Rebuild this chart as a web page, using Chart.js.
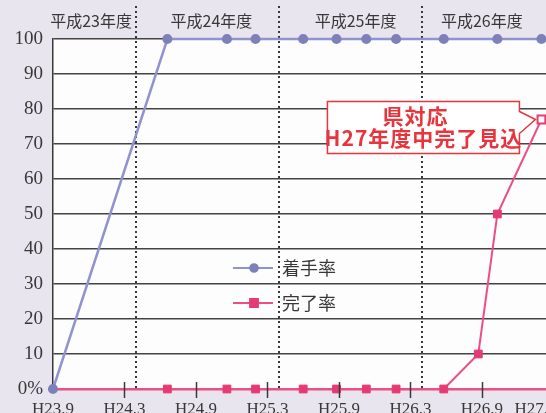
<!DOCTYPE html>
<html lang="ja">
<head>
<meta charset="utf-8">
<title>着手率・完了率</title>
<script src="https://cdn.jsdelivr.net/npm/chart.js@4.4.1/dist/chart.umd.min.js"></script>
<style>
  html, body { margin: 0; padding: 0; overflow: hidden; background: #e9e5ee; }
  canvas { display: block; }
</style>
</head>
<body>
<canvas id="progressChart" width="610" height="420"></canvas>
<script>
// x values are months counted from H23.9
const xTickPos = [0, 6, 12, 18, 24, 30, 36, 40.5];
const xTickLabels = ['H23.9', 'H24.3', 'H24.9', 'H25.3', 'H25.9', 'H26.3', 'H26.9', 'H27.3'];
const fiscalYears = ['平成23年度', '平成24年度', '平成25年度', '平成26年度'];
const fiscalStarts = [7, 19, 31];          // April of each year
const fiscalLabelAt = [3.2, 13.3, 25.4, 36];

const startedMonths = [0, 9.6, 14.6, 17, 21, 23.8, 26.3, 28.8, 32.8, 37.3, 41];
const startedRate   = [0, 100, 100, 100, 100, 100, 100, 100, 100, 100, 100];

const doneMonths = [0, 9.6, 14.6, 17, 21, 23.8, 26.3, 28.8, 32.8, 35.7, 37.3, 41];
const doneRate   = [0, 0, 0, 0, 0, 0, 0, 0, 0, 10, 50, 77];

const noteLines = ['県対応', 'H27年度中完了見込'];

const BLUE = '#8f93cf', BLUE_PT = '#7d81b9';
const PINK = '#ec4f83', PINK_PT = '#e63a72';
const NOTE_RED = '#e8343c';
const INK = '#383838';

const toPoints = (xs, ys) => xs.map((m, i) => ({ x: m, y: ys[i] }));

// white plot area on the lavender page
const plotBackground = {
  id: 'plotBackground',
  beforeDraw(chart) {
    const { ctx, chartArea: a } = chart;
    ctx.save();
    ctx.fillStyle = '#fdfdfd';
    ctx.fillRect(a.left, a.top, a.right - a.left, a.bottom - a.top);
    ctx.restore();
  }
};

// dotted fiscal year separators and their titles
const fiscalYearBands = {
  id: 'fiscalYearBands',
  beforeDatasetsDraw(chart) {
    const { ctx, scales: { x }, chartArea: a } = chart;
    ctx.save();
    ctx.strokeStyle = INK;
    ctx.lineWidth = 2;
    ctx.setLineDash([2, 3]);
    fiscalStarts.forEach(m => {
      const px = Math.round(x.getPixelForValue(m));
      ctx.beginPath();
      ctx.moveTo(px, 6);
      ctx.lineTo(px, a.bottom);
      ctx.stroke();
    });
    ctx.setLineDash([]);
    ctx.fillStyle = INK;
    ctx.font = '16px "Noto Sans CJK JP"';
    ctx.textAlign = 'center';
    ctx.textBaseline = 'middle';
    fiscalYears.forEach((label, i) => {
      ctx.fillText(label, x.getPixelForValue(fiscalLabelAt[i]), 21);
    });
    ctx.restore();
  }
};

// tick marks crossing the x axis
const crossTicks = {
  id: 'crossTicks',
  afterDatasetsDraw(chart) {
    const { ctx, scales: { x }, chartArea: a } = chart;
    ctx.save();
    ctx.strokeStyle = INK;
    ctx.lineWidth = 1.5;
    xTickPos.slice(1, -1).forEach(m => {
      const px = Math.round(x.getPixelForValue(m)) + 0.5;
      ctx.beginPath();
      ctx.moveTo(px, a.bottom - 7);
      ctx.lineTo(px, a.bottom + 9);
      ctx.stroke();
    });
    ctx.restore();
  }
};

// legend sitting inside the plot
const inlineLegend = {
  id: 'inlineLegend',
  afterDatasetsDraw(chart) {
    const { ctx } = chart;
    const x0 = 233, y0 = 268, gap = 35;
    ctx.save();
    chart.data.datasets.forEach((ds, i) => {
      const y = y0 + i * gap;
      ctx.strokeStyle = ds.borderColor;
      ctx.lineWidth = 2;
      ctx.beginPath();
      ctx.moveTo(x0, y);
      ctx.lineTo(x0 + 40, y);
      ctx.stroke();
      ctx.fillStyle = ds.legendPoint;
      ctx.strokeStyle = ds.legendPoint;
      Chart.helpers.drawPoint(ctx, { pointStyle: ds.pointStyle, radius: ds.legendRadius, borderWidth: 1 }, x0 + 21, y);
      ctx.fillStyle = INK;
      ctx.font = '18px "Noto Sans CJK JP"';
      ctx.textAlign = 'left';
      ctx.textBaseline = 'middle';
      ctx.fillText(ds.label, x0 + 49, y);
    });
    ctx.restore();
  }
};

// callout pointing at the last completion value
const callout = {
  id: 'callout',
  afterDatasetsDraw(chart) {
    const { ctx } = chart;
    const meta = chart.getDatasetMeta(1);
    const tip = meta.data[meta.data.length - 1];
    const left = tip.x - 214, right = tip.x - 22;
    const top = tip.y - 18, bottom = tip.y + 34;
    ctx.save();
    ctx.beginPath();
    ctx.moveTo(left, top);
    ctx.lineTo(right, top);
    ctx.lineTo(right, tip.y - 8);
    ctx.lineTo(tip.x - 6, tip.y);
    ctx.lineTo(right, tip.y + 14);
    ctx.lineTo(right, bottom);
    ctx.lineTo(left, bottom);
    ctx.closePath();
    ctx.fillStyle = '#fff';
    ctx.fill();
    ctx.strokeStyle = NOTE_RED;
    ctx.lineWidth = 1.5;
    ctx.stroke();
    ctx.fillStyle = NOTE_RED;
    ctx.font = 'bold 21px "Noto Sans CJK JP"';
    ctx.textAlign = 'center';
    ctx.textBaseline = 'middle';
    ctx.letterSpacing = '1px';
    ctx.fillText(noteLines[0], tip.x - 126, tip.y - 3);
    ctx.fillText(noteLines[1], tip.x - 118, tip.y + 19);
    ctx.restore();
  }
};

const lastDone = doneRate.length - 1;

new Chart(document.getElementById('progressChart'), {
  type: 'line',
  data: {
    datasets: [{
      label: '着手率',
      data: toPoints(startedMonths, startedRate),
      borderColor: BLUE,
      borderWidth: 2.5,
      pointStyle: 'circle',
      pointRadius: 3.8,
      pointBackgroundColor: BLUE_PT,
      pointBorderColor: BLUE_PT,
      legendPoint: BLUE_PT,
      legendRadius: 3.8,
      clip: false
    }, {
      label: '完了率',
      data: toPoints(doneMonths, doneRate),
      borderColor: PINK,
      borderWidth: 2,
      pointStyle: 'rect',
      pointRadius: ctx => ctx.dataIndex === 0 ? 0 : 5.5,
      pointBackgroundColor: ctx => ctx.dataIndex === lastDone ? '#fff' : PINK_PT,
      pointBorderColor: PINK_PT,
      pointBorderWidth: ctx => ctx.dataIndex === lastDone ? 2 : 1,
      legendPoint: PINK_PT,
      legendRadius: 5.5,
      clip: false
    }]
  },
  options: {
    responsive: false,
    animation: false,
    layout: { padding: { top: 39, right: 9, bottom: 0, left: 0 } },
    plugins: {
      legend: { display: false },
      tooltip: { enabled: false }
    },
    scales: {
      x: {
        type: 'linear',
        min: 0,
        max: 46,
        afterFit: scale => { scale.height = 31; },
        afterBuildTicks: scale => { scale.ticks = xTickPos.map(v => ({ value: v })); },
        grid: { display: false, drawTicks: false },
        border: { display: true, color: PINK, width: 2.5 },
        ticks: {
          autoSkip: false,
          maxRotation: 0,
          padding: 10,
          color: INK,
          font: { family: '"Liberation Serif", serif', size: 17 },
          callback: (value, index) => xTickLabels[index]
        }
      },
      y: {
        min: 0,
        max: 100,
        afterFit: scale => { scale.width = 53; },
        grid: { color: '#444', lineWidth: 1.5, drawTicks: false },
        border: { display: true, color: INK, width: 1.5 },
        ticks: {
          stepSize: 10,
          padding: 10,
          color: INK,
          font: { family: '"Liberation Serif", serif', size: 19 },
          callback: value => value === 0 ? '0%' : value
        }
      }
    }
  },
  plugins: [plotBackground, fiscalYearBands, crossTicks, inlineLegend, callout]
});
</script>
</body>
</html>
